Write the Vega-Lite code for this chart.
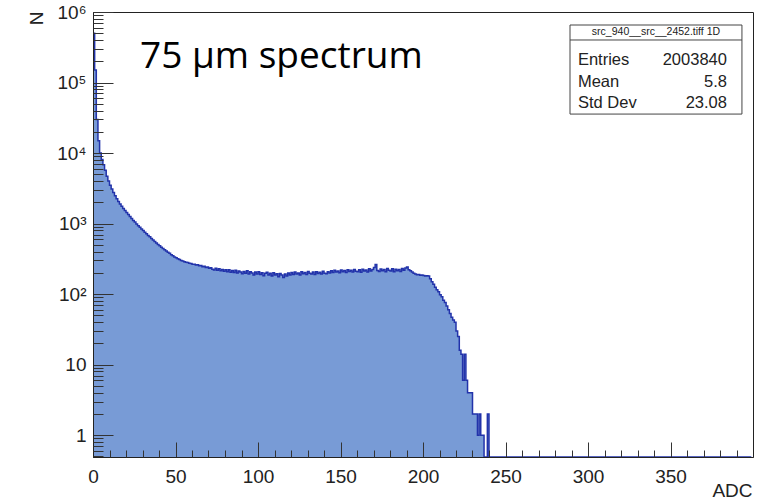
{
"$schema":"https://vega.github.io/schema/vega-lite/v6.json",
"width":660,"height":445,
"autosize":{"type":"none"},
"padding":{"left":93,"top":12,"right":18,"bottom":43},
"background":"white",
"config":{"view":{"stroke":"#222","strokeWidth":1},"axis":{"grid":false,"labelFont":"Liberation Sans","titleFont":"Liberation Sans","labelColor":"#222","titleColor":"#222","tickColor":"#333","domainColor":"#222","labelOverlap":false,"labelFlush":false,"titleFontWeight":"normal"}},
"datasets":{
"hist":[
{"adc":0,"n":500000},{"adc":1,"n":150000},{"adc":2,"n":30000},{"adc":3,"n":15000},{"adc":4,"n":10000},{"adc":5,"n":8100},{"adc":6,"n":6800},{"adc":7,"n":5700},{"adc":8,"n":4700},{"adc":9,"n":4000},
{"adc":10,"n":3500},{"adc":11,"n":3100},{"adc":12,"n":2750},{"adc":13,"n":2480},{"adc":14,"n":2250},{"adc":15,"n":2060},{"adc":16,"n":1900},{"adc":17,"n":1760},{"adc":18,"n":1640},{"adc":19,"n":1530},
{"adc":20,"n":1430},{"adc":21,"n":1340},{"adc":22,"n":1260},{"adc":23,"n":1180},{"adc":24,"n":1110},{"adc":25,"n":1050},{"adc":26,"n":990},{"adc":27,"n":935},{"adc":28,"n":885},{"adc":29,"n":840},
{"adc":30,"n":795},{"adc":31,"n":755},{"adc":32,"n":718},{"adc":33,"n":680},{"adc":34,"n":648},{"adc":35,"n":612},{"adc":36,"n":585},{"adc":37,"n":556},{"adc":38,"n":532},{"adc":39,"n":506},
{"adc":40,"n":485},{"adc":41,"n":462},{"adc":42,"n":444},{"adc":43,"n":424},{"adc":44,"n":409},{"adc":45,"n":391},{"adc":46,"n":378},{"adc":47,"n":362},{"adc":48,"n":351},{"adc":49,"n":337},
{"adc":50,"n":328},{"adc":51,"n":316},{"adc":52,"n":309},{"adc":53,"n":299},{"adc":54,"n":294},{"adc":55,"n":288},{"adc":56,"n":283},{"adc":57,"n":280},{"adc":58,"n":274},{"adc":59,"n":272},
{"adc":60,"n":266},{"adc":61,"n":265},{"adc":62,"n":258},{"adc":63,"n":261},{"adc":64,"n":252},{"adc":65,"n":255},{"adc":66,"n":244},{"adc":67,"n":249},{"adc":68,"n":239},{"adc":69,"n":242},
{"adc":70,"n":232},{"adc":71,"n":236},{"adc":72,"n":226},{"adc":73,"n":220},{"adc":74,"n":232},{"adc":75,"n":218},{"adc":76,"n":228},{"adc":77,"n":214},{"adc":78,"n":224},{"adc":79,"n":211},
{"adc":80,"n":221},{"adc":81,"n":208},{"adc":82,"n":222},{"adc":83,"n":204},{"adc":84,"n":216},{"adc":85,"n":202},{"adc":86,"n":217},{"adc":87,"n":199},{"adc":88,"n":212},{"adc":89,"n":205},
{"adc":90,"n":194},{"adc":91,"n":210},{"adc":92,"n":198},{"adc":93,"n":214},{"adc":94,"n":192},{"adc":95,"n":207},{"adc":96,"n":199},{"adc":97,"n":186},{"adc":98,"n":205},{"adc":99,"n":193},
{"adc":100,"n":208},{"adc":101,"n":189},{"adc":102,"n":201},{"adc":103,"n":182},{"adc":104,"n":197},{"adc":105,"n":204},{"adc":106,"n":187},{"adc":107,"n":197},{"adc":108,"n":180},{"adc":109,"n":200},
{"adc":110,"n":186},{"adc":111,"n":194},{"adc":112,"n":176},{"adc":113,"n":196},{"adc":114,"n":186},{"adc":115,"n":172},{"adc":116,"n":192},{"adc":117,"n":181},{"adc":118,"n":199},{"adc":119,"n":186},
{"adc":120,"n":202},{"adc":121,"n":190},{"adc":122,"n":205},{"adc":123,"n":192},{"adc":124,"n":199},{"adc":125,"n":186},{"adc":126,"n":207},{"adc":127,"n":194},{"adc":128,"n":202},{"adc":129,"n":190},
{"adc":130,"n":209},{"adc":131,"n":197},{"adc":132,"n":193},{"adc":133,"n":206},{"adc":134,"n":189},{"adc":135,"n":208},{"adc":136,"n":196},{"adc":137,"n":204},{"adc":138,"n":192},{"adc":139,"n":211},
{"adc":140,"n":198},{"adc":141,"n":195},{"adc":142,"n":208},{"adc":143,"n":199},{"adc":144,"n":214},{"adc":145,"n":202},{"adc":146,"n":217},{"adc":147,"n":205},{"adc":148,"n":213},{"adc":149,"n":201},
{"adc":150,"n":220},{"adc":151,"n":207},{"adc":152,"n":216},{"adc":153,"n":203},{"adc":154,"n":222},{"adc":155,"n":209},{"adc":156,"n":218},{"adc":157,"n":205},{"adc":158,"n":224},{"adc":159,"n":211},
{"adc":160,"n":207},{"adc":161,"n":221},{"adc":162,"n":204},{"adc":163,"n":226},{"adc":164,"n":212},{"adc":165,"n":220},{"adc":166,"n":206},{"adc":167,"n":228},{"adc":168,"n":213},{"adc":169,"n":223},
{"adc":170,"n":238},{"adc":171,"n":262},{"adc":172,"n":216},{"adc":173,"n":209},{"adc":174,"n":227},{"adc":175,"n":214},{"adc":176,"n":224},{"adc":177,"n":208},{"adc":178,"n":230},{"adc":179,"n":217},
{"adc":180,"n":212},{"adc":181,"n":228},{"adc":182,"n":207},{"adc":183,"n":225},{"adc":184,"n":214},{"adc":185,"n":223},{"adc":186,"n":209},{"adc":187,"n":230},{"adc":188,"n":217},{"adc":189,"n":234},
{"adc":190,"n":242},{"adc":191,"n":222},{"adc":192,"n":214},{"adc":193,"n":205},{"adc":194,"n":198},{"adc":195,"n":192},{"adc":196,"n":188},{"adc":197,"n":190},{"adc":198,"n":185},{"adc":199,"n":186},
{"adc":200,"n":183},{"adc":201,"n":181},{"adc":202,"n":182},{"adc":203,"n":180},{"adc":204,"n":165},{"adc":205,"n":150},{"adc":206,"n":138},{"adc":207,"n":125},{"adc":208,"n":115},{"adc":209,"n":108},
{"adc":210,"n":98},{"adc":211,"n":92},{"adc":212,"n":82},{"adc":213,"n":76},{"adc":214,"n":68},{"adc":215,"n":60},{"adc":216,"n":53},{"adc":217,"n":47},{"adc":218,"n":43},{"adc":219,"n":40},
{"adc":220,"n":30},{"adc":221,"n":25},{"adc":222,"n":16},{"adc":223,"n":14},{"adc":224,"n":6},{"adc":225,"n":14},{"adc":226,"n":6},{"adc":227,"n":4},{"adc":228,"n":4},{"adc":229,"n":4},
{"adc":230,"n":2},{"adc":231,"n":2},{"adc":232,"n":2},{"adc":233,"n":1},{"adc":234,"n":2},{"adc":235,"n":1},{"adc":236,"n":1},{"adc":237,"n":0},{"adc":238,"n":0},{"adc":239,"n":2},
{"adc":240,"n":0},{"adc":241,"n":0},{"adc":242,"n":0},{"adc":243,"n":0},{"adc":244,"n":0},{"adc":245,"n":0},{"adc":246,"n":0},{"adc":247,"n":0},{"adc":248,"n":0},{"adc":249,"n":0},
{"adc":250,"n":0},{"adc":251,"n":0},{"adc":252,"n":0},{"adc":253,"n":0},{"adc":254,"n":0},{"adc":255,"n":0},{"adc":256,"n":0},{"adc":257,"n":0},{"adc":258,"n":0},{"adc":259,"n":0},
{"adc":260,"n":0},{"adc":261,"n":0},{"adc":262,"n":0},{"adc":263,"n":0},{"adc":264,"n":0},{"adc":265,"n":0},{"adc":266,"n":0},{"adc":267,"n":0},{"adc":268,"n":0},{"adc":269,"n":0},
{"adc":270,"n":0},{"adc":271,"n":0},{"adc":272,"n":0},{"adc":273,"n":0},{"adc":274,"n":0},{"adc":275,"n":0},{"adc":276,"n":0},{"adc":277,"n":0},{"adc":278,"n":0},{"adc":279,"n":0},
{"adc":280,"n":0},{"adc":281,"n":0},{"adc":282,"n":0},{"adc":283,"n":0},{"adc":284,"n":0},{"adc":285,"n":0},{"adc":286,"n":0},{"adc":287,"n":0},{"adc":288,"n":0},{"adc":289,"n":0},
{"adc":290,"n":0},{"adc":291,"n":0},{"adc":292,"n":0},{"adc":293,"n":0},{"adc":294,"n":0},{"adc":295,"n":0},{"adc":296,"n":0},{"adc":297,"n":0},{"adc":298,"n":0},{"adc":299,"n":0},
{"adc":300,"n":0},{"adc":301,"n":0},{"adc":302,"n":0},{"adc":303,"n":0},{"adc":304,"n":0},{"adc":305,"n":0},{"adc":306,"n":0},{"adc":307,"n":0},{"adc":308,"n":0},{"adc":309,"n":0},
{"adc":310,"n":0},{"adc":311,"n":0},{"adc":312,"n":0},{"adc":313,"n":0},{"adc":314,"n":0},{"adc":315,"n":0},{"adc":316,"n":0},{"adc":317,"n":0},{"adc":318,"n":0},{"adc":319,"n":0},
{"adc":320,"n":0},{"adc":321,"n":0},{"adc":322,"n":0},{"adc":323,"n":0},{"adc":324,"n":0},{"adc":325,"n":0},{"adc":326,"n":0},{"adc":327,"n":0},{"adc":328,"n":0},{"adc":329,"n":0},
{"adc":330,"n":0},{"adc":331,"n":0},{"adc":332,"n":0},{"adc":333,"n":0},{"adc":334,"n":0},{"adc":335,"n":0},{"adc":336,"n":0},{"adc":337,"n":0},{"adc":338,"n":0},{"adc":339,"n":0},
{"adc":340,"n":0},{"adc":341,"n":0},{"adc":342,"n":0},{"adc":343,"n":0},{"adc":344,"n":0},{"adc":345,"n":0},{"adc":346,"n":0},{"adc":347,"n":0},{"adc":348,"n":0},{"adc":349,"n":0},
{"adc":350,"n":0},{"adc":351,"n":0},{"adc":352,"n":0},{"adc":353,"n":0},{"adc":354,"n":0},{"adc":355,"n":0},{"adc":356,"n":0},{"adc":357,"n":0},{"adc":358,"n":0},{"adc":359,"n":0},
{"adc":360,"n":0},{"adc":361,"n":0},{"adc":362,"n":0},{"adc":363,"n":0},{"adc":364,"n":0},{"adc":365,"n":0},{"adc":366,"n":0},{"adc":367,"n":0},{"adc":368,"n":0},{"adc":369,"n":0},
{"adc":370,"n":0},{"adc":371,"n":0},{"adc":372,"n":0},{"adc":373,"n":0},{"adc":374,"n":0},{"adc":375,"n":0},{"adc":376,"n":0},{"adc":377,"n":0},{"adc":378,"n":0},{"adc":379,"n":0},
{"adc":380,"n":0},{"adc":381,"n":0},{"adc":382,"n":0},{"adc":383,"n":0},{"adc":384,"n":0},{"adc":385,"n":0},{"adc":386,"n":0},{"adc":387,"n":0},{"adc":388,"n":0},{"adc":389,"n":0},
{"adc":390,"n":0},{"adc":391,"n":0},{"adc":392,"n":0},{"adc":393,"n":0},{"adc":394,"n":0},{"adc":395,"n":0},{"adc":396,"n":0},{"adc":397,"n":0},{"adc":398,"n":0},{"adc":399,"n":0}
],
"stats":[
{"stat":"title","label":"src_940__src__2452.tiff 1D","value":""},
{"stat":"Entries","label":"Entries","value":"2003840"},
{"stat":"Mean","label":"Mean","value":"5.8"},
{"stat":"Std Dev","label":"Std Dev","value":"23.08"}
],
"note":[{"text":"75 µm spectrum"}]
},
"layer":[
{"data":{"name":"hist"},
 "mark":{"type":"area","interpolate":"step-after","color":"#789bd6","invalid":"show"},
 "encoding":{
  "x":{"field":"adc","type":"quantitative","scale":{"domain":[0,400],"nice":false,"zero":false},
       "axis":{"orient":"bottom","zindex":1,"values":[0,50,100,150,200,250,300,350],"tickSize":-15,"labelPadding":25,"labelFontSize":19,"domain":true,
               "title":"ADC","titleFontSize":19,"titleAnchor":"end","titleAlign":"right","titleBaseline":"alphabetic","titleX":659,"titleY":39}},
  "y":{"field":"n","type":"quantitative","scale":{"type":"log","domain":[0.49,1000000],"nice":false,"clamp":true},
       "axis":{"orient":"left","zindex":1,"values":[1,10,100,1000,10000,100000,1000000],"tickSize":-20,"labelPadding":27,"labelFontSize":19,"domain":true,
               "labelExpr":"datum.value < 5 ? '1' : datum.value < 50 ? '10' : '10' + ['⁰','¹','²','³','⁴','⁵','⁶'][round(log(datum.value)/LN10)]",
               "title":"N","titleFontSize":19,"titleAngle":270,"titleAlign":"center","titleBaseline":"middle","titleX":-57,"titleY":6}}
 }},
{"data":{"name":"hist"},
 "mark":{"type":"line","interpolate":"step-after","color":"#2233aa","strokeWidth":1.5,"invalid":"show"},
 "encoding":{
  "x":{"field":"adc","type":"quantitative",
       "axis":{"orient":"bottom","zindex":1,"values":[10,20,30,40,60,70,80,90,110,120,130,140,160,170,180,190,210,220,230,240,260,270,280,290,310,320,330,340,360,370,380,390],"tickSize":-7,"labels":false,"domain":false,"title":null}},
  "y":{"field":"n","type":"quantitative",
       "axis":{"orient":"left","zindex":1,"values":[0.5,0.6,0.7,0.8,0.9,2,3,4,5,6,7,8,9,20,30,40,50,60,70,80,90,200,300,400,500,600,700,800,900,2000,3000,4000,5000,6000,7000,8000,9000,20000,30000,40000,50000,60000,70000,80000,90000,200000,300000,400000,500000,600000,700000,800000,900000],"tickSize":-10,"labels":false,"domain":false,"title":null}}
 }},
{"data":{"name":"stats"},"transform":[{"filter":"datum.stat == 'title'"}],
 "mark":{"type":"rect","fill":"white","stroke":"#444","strokeWidth":1},
 "encoding":{"x":{"datum":289.1,"type":"quantitative","axis":null},"x2":{"datum":393.3},
             "y":{"datum":654000,"type":"quantitative","axis":null},"y2":{"datum":35700}}},
{"data":{"name":"stats"},"transform":[{"filter":"datum.stat == 'title'"}],
 "mark":{"type":"rule","color":"#444","strokeWidth":1},
 "encoding":{"x":{"datum":289.1,"type":"quantitative","axis":null},"x2":{"datum":393.3},
             "y":{"datum":401000,"type":"quantitative","axis":null}}},
{"data":{"name":"stats"},"transform":[{"filter":"datum.stat == 'title'"}],
 "mark":{"type":"text","font":"Liberation Sans","fontSize":10.5,"align":"center","baseline":"middle","color":"#222"},
 "encoding":{"x":{"datum":341.2,"type":"quantitative","axis":null},"y":{"datum":520000,"type":"quantitative","axis":null},"text":{"field":"label"}}},
{"data":{"name":"stats"},"transform":[{"filter":"datum.stat == 'Entries'"}],
 "mark":{"type":"text","font":"Liberation Sans","fontSize":16.5,"align":"left","baseline":"middle","color":"#222"},
 "encoding":{"x":{"datum":293.9,"type":"quantitative","axis":null},"y":{"datum":208000,"type":"quantitative","axis":null},"text":{"field":"label"}}},
{"data":{"name":"stats"},"transform":[{"filter":"datum.stat == 'Entries'"}],
 "mark":{"type":"text","font":"Liberation Sans","fontSize":16.5,"align":"right","baseline":"middle","color":"#222"},
 "encoding":{"x":{"datum":384.2,"type":"quantitative","axis":null},"y":{"datum":208000,"type":"quantitative","axis":null},"text":{"field":"value"}}},
{"data":{"name":"stats"},"transform":[{"filter":"datum.stat == 'Mean'"}],
 "mark":{"type":"text","font":"Liberation Sans","fontSize":16.5,"align":"left","baseline":"middle","color":"#222"},
 "encoding":{"x":{"datum":293.9,"type":"quantitative","axis":null},"y":{"datum":102000,"type":"quantitative","axis":null},"text":{"field":"label"}}},
{"data":{"name":"stats"},"transform":[{"filter":"datum.stat == 'Mean'"}],
 "mark":{"type":"text","font":"Liberation Sans","fontSize":16.5,"align":"right","baseline":"middle","color":"#222"},
 "encoding":{"x":{"datum":384.2,"type":"quantitative","axis":null},"y":{"datum":102000,"type":"quantitative","axis":null},"text":{"field":"value"}}},
{"data":{"name":"stats"},"transform":[{"filter":"datum.stat == 'Std Dev'"}],
 "mark":{"type":"text","font":"Liberation Sans","fontSize":16.5,"align":"left","baseline":"middle","color":"#222"},
 "encoding":{"x":{"datum":293.9,"type":"quantitative","axis":null},"y":{"datum":51200,"type":"quantitative","axis":null},"text":{"field":"label"}}},
{"data":{"name":"stats"},"transform":[{"filter":"datum.stat == 'Std Dev'"}],
 "mark":{"type":"text","font":"Liberation Sans","fontSize":16.5,"align":"right","baseline":"middle","color":"#222"},
 "encoding":{"x":{"datum":384.2,"type":"quantitative","axis":null},"y":{"datum":51200,"type":"quantitative","axis":null},"text":{"field":"value"}}},
{"data":{"name":"note"},
 "mark":{"type":"text","font":"Open Sans","fontSize":37,"align":"left","baseline":"alphabetic","color":"#000"},
 "encoding":{"x":{"datum":28.5,"type":"quantitative","axis":null},"y":{"datum":160000,"type":"quantitative","axis":null},"text":{"field":"text"}}}
],
"resolve":{"axis":{"x":"independent","y":"independent"}}
}
